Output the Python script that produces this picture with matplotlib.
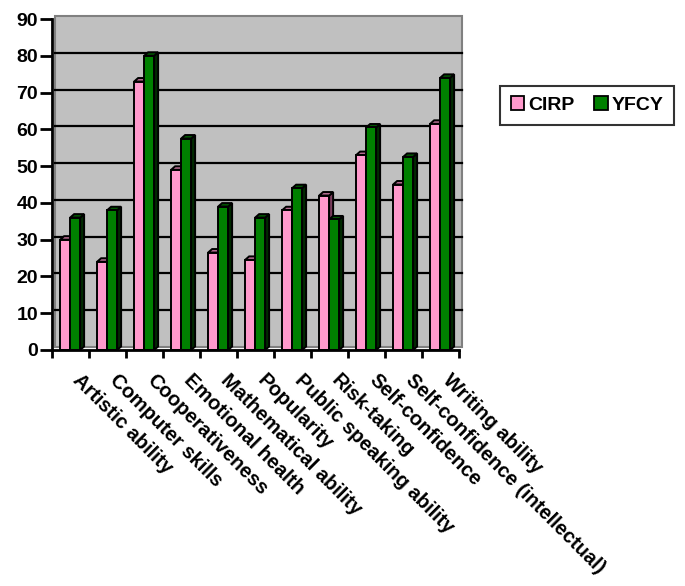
import matplotlib
matplotlib.use("Agg")
import matplotlib.pyplot as plt
import matplotlib.transforms as mtransforms
from matplotlib.patches import Polygon, Rectangle, Patch
import numpy as np

plt.rcParams['font.family'] = ['Liberation Sans', 'DejaVu Sans']
plt.rcParams['font.weight'] = 'bold'

categories = ['Artistic ability', 'Computer skills', 'Cooperativeness',
              'Emotional health', 'Mathematical ability', 'Popularity',
              'Public speaking ability', 'Risk-taking', 'Self-confidence',
              'Self-confidence (intellectual)', 'Writing ability']
cirp = [30, 24, 73, 49, 26.5, 24.5, 38, 42, 53, 45, 61.5]
yfcy = [36, 38, 80, 57.5, 39, 36, 44, 35.5, 60.5, 52.5, 74]
series = [('CIRP', cirp, '#FF99CC', '#B36B8F', '#7A3D5C'),
          ('YFCY', yfcy, '#008000', '#005500', '#002A00')]
yticks = list(range(0, 100, 10))

W, H = 685, 586
fig = plt.figure(figsize=(W / 100, H / 100), dpi=100)
ax_l, ax_r, ax_t, ax_b = 52, 459, 19, 350
ax = fig.add_axes([ax_l / W, 1 - ax_b / H, (ax_r - ax_l) / W, (ax_b - ax_t) / H])
n = len(categories)
ax.set_xlim(-0.5, n - 0.5)
ax.set_ylim(0, 90)
ax.patch.set_visible(False)

# 3D depth in data units (about 4 px right, 3.5 px up)
px_x = n / (ax_r - ax_l)
px_y = 90 / (ax_b - ax_t)
dx, dy = 4 * px_x, 3.5 * px_y

# back wall, shifted by the depth
wall_off = mtransforms.ScaledTranslation(3 / 100, 3 / 100, fig.dpi_scale_trans)
wall = Rectangle((-0.5, 0), n, 90, facecolor='#C0C0C0', edgecolor='#808080',
                 lw=1.5, transform=ax.transData + wall_off, zorder=0, clip_on=False)
ax.add_patch(wall)
for v in yticks[1:-1]:
    ax.plot([-0.5, n - 0.5], [v, v], color='black', lw=1.6,
            transform=ax.transData + wall_off, zorder=1, clip_on=False)

x = np.arange(n)
width = 0.27
offsets = [-0.145, 0.125]
for (name, vals, front, top, side), off in zip(series, offsets):
    for xi, v in zip(x, vals):
        x0 = xi + off - width / 2
        ax.add_patch(Polygon([(x0 + width, 0), (x0 + width, v), (x0 + width + dx, v + dy),
                              (x0 + width + dx, dy)], closed=True, facecolor=side,
                             edgecolor='black', lw=1.4, zorder=3, clip_on=False))
        ax.add_patch(Polygon([(x0, v), (x0 + width, v), (x0 + width + dx, v + dy),
                              (x0 + dx, v + dy)], closed=True, facecolor=top,
                             edgecolor='black', lw=1.4, zorder=3, clip_on=False))
    ax.bar(x + off, vals, width, color=front, edgecolor='black', lw=1.4, zorder=3,
           clip_on=False)

for s in ['top', 'right']:
    ax.spines[s].set_visible(False)
for s in ['left', 'bottom']:
    ax.spines[s].set_linewidth(2)
    ax.spines[s].set_zorder(5)

ax.set_yticks(yticks)
ax.set_yticklabels([str(v) for v in yticks], fontsize=14, fontweight='bold')
ax.tick_params(axis='y', length=9, width=2, pad=1)

ax.set_xticks(np.arange(n + 1) - 0.5)
ax.set_xticklabels([])
ax.tick_params(axis='x', which='major', length=6, width=2)
ax.set_xticks(x, minor=True)
ax.set_xticklabels(categories, minor=True, fontsize=14.5, fontweight='bold')
ax.tick_params(axis='x', which='minor', length=0, pad=15)
shift = mtransforms.ScaledTranslation(12 / 100, 0, fig.dpi_scale_trans)
for lab in ax.get_xticklabels(minor=True):
    lab.set_rotation(-45)
    lab.set_ha('left')
    lab.set_va('top')
    lab.set_rotation_mode('anchor')
    lab.set_transform(lab.get_transform() + shift)

handles = [Patch(facecolor=c, edgecolor='black', lw=1.3) for _, _, c, _, _ in series]
leg = fig.legend(handles, [s[0] for s in series], loc='center',
                 bbox_to_anchor=(587 / W, 1 - 105 / H), ncol=2, frameon=True,
                 fancybox=False, prop={'size': 14, 'weight': 'bold'},
                 handlelength=0.7, handleheight=0.7, handletextpad=0.2,
                 columnspacing=1.0, borderpad=0.55)
leg.get_frame().set_edgecolor('black')
leg.get_frame().set_linewidth(1.5)

fig.savefig('out.png', dpi=100)
